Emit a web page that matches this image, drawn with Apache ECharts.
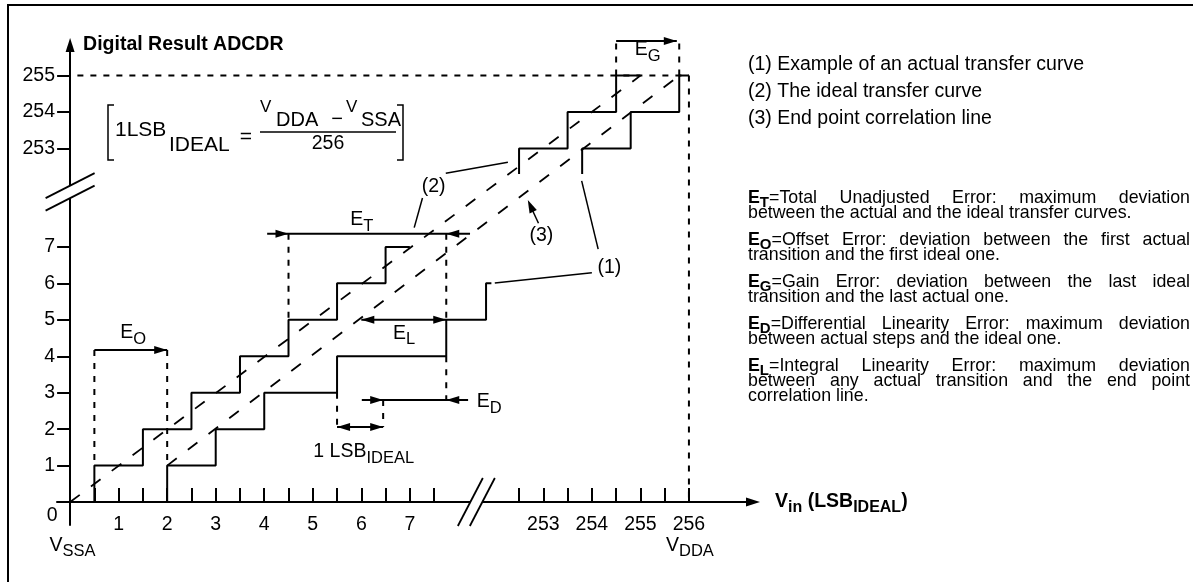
<!DOCTYPE html>
<html>
<head>
<meta charset="utf-8">
<script src="https://cdn.jsdelivr.net/npm/echarts@6.0.0/dist/echarts.min.js"></script>
<style>
html,body{margin:0;padding:0;background:#fff;}
#chart{width:1193px;height:582px;}
</style>
</head>
<body>
<div id="chart"></div>
<script>
const FONT = '"Liberation Sans", Arial, Helvetica, sans-serif';

// ---------- axis-break mapping: values above 100 live beyond the // breaks ----------
const BREAK_AT = 100;
const X_BREAK_SHIFT = 243.25;
const Y_BREAK_SHIFT = 243.3;
const mx = v => (v > BREAK_AT ? v - X_BREAK_SHIFT : v);
const my = v => (v > BREAK_AT ? v - Y_BREAK_SHIFT : v);
const toAxis = p => [mx(p[0]), my(p[1])];

// ---------- ticks ----------
const xTickValues = [0.5,1,1.5,2,2.5,3,3.5,4,4.5,5,5.5,6,6.5,7,7.5,252.5,253,253.5,254,254.5,255,255.5,256];
const xLabelValues = [1,2,3,4,5,6,7,253,254,255,256];
const yLabelValues = [1,2,3,4,5,6,7,253,254,255];

// ---------- transfer curves (x in LSB, y in output code) ----------
const idealLowTransitions = [0.5,1.5,2.5,3.5,4.5,5.5,6.5];
const idealLowEnd = 7.0;
const idealHighTransitions = [252.5,253.5,254.5];
const idealHighEnd = 255.0;
const actualLowTransitions = [2,3,4,5.5,7.75,8.57];
const actualLowEnd = 8.68;
const actualHighTransitions = [253.8,254.8,255.8];
const actualHighEnd = 256;
const highSegmentStartCode = 252.3;
const idealLine = [[0,0],[255,255]];
const endPointLine = [[2,1],[255.8,255]];

// ---------- annotation geometry (same units) ----------
const guideLines = [
  [[0.15,255],[256,255]],
  [[256,255],[256,0]],
  [[254.5,255],[254.5,255.95]],
  [[255.8,255],[255.8,255.95]],
  [[0.5,4.17],[0.5,1]],
  [[2,4.17],[2,1]],
  [[4.5,7.36],[4.5,5]],
  [[7.75,7.36],[7.75,5]],
  [[7.75,4],[7.75,2.8]],
  [[6.45,2.8],[6.45,2.06]],
  [[5.5,3],[5.5,2.06]]
];
const arrowShafts = [
  [[0.5,4.17],[2,4.17]],
  [[4.06,7.36],[8.24,7.36]],
  [[6,5],[7.75,5]],
  [[6.01,2.8],[8.2,2.8]],
  [[5.5,2.06],[6.45,2.06]],
  [[254.5,255.95],[255.75,255.95]]
];
const arrowHeads = [ // [tip, coming from]
  [[2,4.17],[1,4.17]],
  [[4.5,7.36],[4,7.36]],
  [[7.75,7.36],[8.5,7.36]],
  [[6,5],[7,5]],
  [[7.75,5],[7,5]],
  [[6.45,2.8],[6,2.8]],
  [[7.75,2.8],[8.5,2.8]],
  [[5.5,2.06],[6,2.06]],
  [[6.45,2.06],[6,2.06]],
  [[255.75,255.95],[255,255.95]],
  [[9.43,8.29],[9.65,7.65]]
];
const leaderLines = [
  [[7.74,9.02],[9.02,9.32]],
  [[7.26,8.34],[7.09,7.53]],
  [[10.75,6.29],[8.75,6.01]],
  [[10.88,6.94],[10.54,8.81]],
  [[9.65,7.65],[9.5,8.08]]
];
const axisBreaks = [['x', 8.37, 0], ['y', 0, 8.51]];
const plotLabels = [ // [text, subscript, x, y, align]
  ['E','O',1.30,4.64,'center'],
  ['E','T',6.01,7.75,'center'],
  ['E','L',6.88,4.63,'center'],
  ['E','D',8.38,2.75,'left'],
  ['1 LSB','IDEAL',6.05,1.37,'center'],
  ['E','G',255.15,255.71,'center'],
  ['(2)','',7.49,8.65,'center'],
  ['(3)','',9.71,7.30,'center'],
  ['(1)','',11.11,6.44,'center'],
  ['0','',-0.37,-0.38,'center'],
  ['V','SSA',0.05,-1.19,'center'],
  ['V','DDA',256.02,-1.19,'center']
];

// ---------- right-hand text ----------
const legendLines = ['(1) Example of an actual transfer curve','(2) The ideal transfer curve','(3) End point correlation line'];
const definitions = [
  ['T', ['=Total Unadjusted Error: maximum deviation','between the actual and the ideal transfer curves.']],
  ['O', ['=Offset Error: deviation between the first actual','transition and the first ideal one.']],
  ['G', ['=Gain Error: deviation between the last ideal','transition and the last actual one.']],
  ['D', ['=Differential Linearity Error: maximum deviation','between actual steps and the ideal one.']],
  ['L', ['=Integral Linearity Error: maximum deviation','between any actual transition and the end point','correlation line.']]
];

// ---------- helpers ----------
function staircase(transitions, firstCode, startLevel, endX) {
  const pts = [];
  let level = startLevel;
  transitions.forEach((x, i) => {
    pts.push([x, level]);
    level = firstCode + i;
    pts.push([x, level]);
  });
  pts.push([endX, level]);
  return pts.map(toAxis);
}
const measureCtx = document.createElement('canvas').getContext('2d');
function measure(text, size, weight) {
  measureCtx.font = weight + ' ' + size + 'px ' + FONT;
  return measureCtx.measureText(text).width;
}

const DESC_SIZE = 17.8, DESC_SUB = 15, DESC_LEFT = 748, DESC_RIGHT = 1190;
const segFont = { n: [DESC_SIZE,'normal'], B: [DESC_SIZE,'bold'], S: [DESC_SUB,'bold'] };
const descRich = {
  n: {fontSize: DESC_SIZE, fontFamily: FONT, fill:'#000', color:'#000', lineHeight: 20},
  B: {fontSize: DESC_SIZE, fontWeight:'bold', fontFamily: FONT, fill:'#000', color:'#000', lineHeight: 20},
  S: {fontSize: DESC_SUB, fontWeight:'bold', fontFamily: FONT, fill:'#000', color:'#000', lineHeight: 14, padding:[10,0,0,0]}
};
const graphics = [];
// frame
graphics.push({type:'rect', shape:{x:8, y:5, width:1400, height:800}, style:{fill:'none', stroke:'#000', lineWidth:2}, z:1});
// legend
legendLines.forEach((t, i) => graphics.push({type:'text', x: DESC_LEFT, y: 65 + i*27,
  style:{text:t, fontSize:19.5, fontFamily:FONT, fill:'#000', align:'left', verticalAlign:'middle'}}));
// definitions (justified)
const paraTops = [198, 240, 282, 324, 366];
const LINE_STEP = 15;
definitions.forEach(([sym, lines], pi) => {
  lines.forEach((line, li) => {
    const words = line.split(' ').map(w => [['n', w]]);
    if (li === 0) words[0] = [['B','E'],['S',sym],['n',words[0][0][1]]];
    const widths = words.map(segs => segs.reduce((s,[st,t]) => s + measure(t, segFont[st][0], segFont[st][1]), 0));
    const total = widths.reduce((a,b)=>a+b,0);
    const justify = li < lines.length - 1;
    const gap = justify ? (DESC_RIGHT - DESC_LEFT - total) / (words.length - 1) : measure(' ', DESC_SIZE, 'normal');
    let x = DESC_LEFT;
    const y = paraTops[pi] + li * LINE_STEP;
    words.forEach((segs, wi) => {
      graphics.push({type:'text', x: x, y: y,
        style:{text: segs.map(([st,t]) => '{' + st + '|' + t + '}').join(''), rich: descRich,
          fontSize: DESC_SIZE, fontFamily: FONT, fill:'#000', align:'left', verticalAlign:'middle'}});
      x += widths[wi] + gap;
    });
  });
});
// formula box
const fTxt = (t, x, y, size, align) => graphics.push({type:'text', x, y,
  style:{text:t, fontSize:size, fontFamily:FONT, fill:'#000', align: align || 'left', verticalAlign:'middle'}});
fTxt('1LSB', 115, 130, 21);
fTxt('IDEAL', 169, 145, 21);
fTxt('=', 246, 137, 21, 'center');
fTxt('V', 260, 107, 17);
fTxt('DDA', 276, 120, 20);
fTxt('\u2212', 337, 119, 20, 'center');
fTxt('V', 346, 107, 17);
fTxt('SSA', 361, 120, 20);
fTxt('256', 328, 144, 19.5, 'center');
graphics.push({type:'line', shape:{x1:260, y1:132, x2:396, y2:132}, style:{stroke:'#000', lineWidth:1.5}});
graphics.push({type:'polyline', shape:{points:[[114,105],[108,105],[108,160],[114,160]]}, style:{stroke:'#000', lineWidth:1.5, fill:'none'}});
graphics.push({type:'polyline', shape:{points:[[397,105],[403,105],[403,160],[397,160]]}, style:{stroke:'#000', lineWidth:1.5, fill:'none'}});

// ---------- annotation renderer ----------
const labelRich = {
  b: {fontSize: 19.5, fontFamily: FONT, fill:'#000', lineHeight: 22},
  s: {fontSize: 16.5, fontFamily: FONT, fill:'#000', lineHeight: 16, padding:[13,0,0,0]}
};
function renderAnnotations(params, api) {
  const px = p => api.coord(toAxis(p));
  const kids = [];
  const seg = (a, b, style) => kids.push({type:'line', shape:{x1:a[0], y1:a[1], x2:b[0], y2:b[1]}, style});
  guideLines.forEach(([a,b]) => seg(px(a), px(b), {stroke:'#000', lineWidth:2, lineDash:[6,7]}));
  arrowShafts.forEach(([a,b]) => seg(px(a), px(b), {stroke:'#000', lineWidth:2}));
  leaderLines.forEach(([a,b]) => seg(px(a), px(b), {stroke:'#000', lineWidth:1.5}));
  arrowHeads.forEach(([tip, from]) => {
    const t = px(tip), f = px(from);
    let ux = t[0]-f[0], uy = t[1]-f[1];
    const len = Math.hypot(ux, uy); ux /= len; uy /= len;
    const L = 13, W = 4;
    const bx = t[0]-ux*L, by = t[1]-uy*L;
    kids.push({type:'polygon', shape:{points:[[t[0],t[1]],[bx-uy*W, by+ux*W],[bx+uy*W, by-ux*W]]}, style:{fill:'#000'}});
  });
  axisBreaks.forEach(([dir, x, y]) => {
    const c = api.coord([x, y]);
    const h = dir === 'x' ? [12.5, -24] : [24.5, -12.5];
    const o = dir === 'x' ? [6, 0] : [0, 6.25];
    const A = [c[0]-o[0], c[1]-o[1]], B = [c[0]+o[0], c[1]+o[1]];
    kids.push({type:'polygon', shape:{points:[[A[0]-h[0],A[1]-h[1]],[A[0]+h[0],A[1]+h[1]],[B[0]+h[0],B[1]+h[1]],[B[0]-h[0],B[1]-h[1]]]}, style:{fill:'#fff'}});
    [A, B].forEach(P0 => seg([P0[0]-h[0],P0[1]-h[1]],[P0[0]+h[0],P0[1]+h[1]], {stroke:'#000', lineWidth:1.8}));
  });
  plotLabels.forEach(([base, sub, x, y, align]) => {
    const p = px([x, y]);
    kids.push({type:'text', x:p[0], y:p[1], style:{
      text: '{b|' + base + '}' + (sub ? '{s|' + sub + '}' : ''), rich: labelRich,
      fontSize:19.5, fontFamily:FONT, fill:'#000', align: align, verticalAlign:'middle'}});
  });
  return {type:'group', children: kids};
}

const solid = {color:'#000', width:2};
const lineSeries = (data, style) => ({type:'line', data, showSymbol:false, symbol:'none', clip:false, silent:true,
  lineStyle: style, itemStyle:{color:'#000'}, z:3});

const chart = echarts.init(document.getElementById('chart'), null, {renderer:'canvas', devicePixelRatio:1});
chart.setOption({
  animation: false,
  backgroundColor: '#fff',
  textStyle: {fontFamily: FONT},
  grid: {left:57, top:45, width:696, height:480, containLabel:false, outerBoundsMode:'none'},
  xAxis: {
    type:'value', min:-0.27, max:14.07,
    axisLine:{show:true, onZero:true, symbol:['none','triangle'], symbolSize:[9,14], lineStyle:{color:'#000', width:2}},
    axisTick:{show:true, inside:true, length:14, customValues: xTickValues.map(mx), lineStyle:{color:'#000', width:2}},
    axisLabel:{show:true, margin:-10, fontSize:19.5, color:'#000', fontFamily:FONT,
      customValues: xLabelValues.map(mx),
      formatter: v => String(xLabelValues.find(l => Math.abs(mx(l) - v) < 1e-6))},
    splitLine:{show:false},
    name:'{b|V}{s|in}{b| (LSB}{s|IDEAL}{b|)}', nameLocation:'end', nameGap:22,
    nameTextStyle:{color:'#000', padding:[0,0,0,0], rich:{
      b:{fontSize:19.5, fontWeight:'bold', fontFamily:FONT, color:'#000', lineHeight:22},
      s:{fontSize:16, fontWeight:'bold', fontFamily:FONT, color:'#000', lineHeight:16, padding:[12,0,0,0]}}}
  },
  yAxis: {
    type:'value', min:-0.63, max:12.54,
    axisLine:{show:true, onZero:true, symbol:['none','triangle'], symbolSize:[9,14], lineStyle:{color:'#000', width:2}},
    axisTick:{show:true, inside:false, length:13, customValues: yLabelValues.map(my), lineStyle:{color:'#000', width:2}},
    axisLabel:{show:true, margin:2, fontSize:19.5, color:'#000', fontFamily:FONT,
      customValues: yLabelValues.map(my),
      formatter: v => String(yLabelValues.find(l => Math.abs(my(l) - v) < 1e-6))},
    splitLine:{show:false},
    name:'Digital Result ADCDR', nameLocation:'end', nameGap:0,
    nameTextStyle:{color:'#000', fontSize:19.5, fontWeight:'bold', fontFamily:FONT, align:'left', verticalAlign:'middle', padding:[0,0,0,13]}
  },
  graphic: graphics,
  series: [
    lineSeries(staircase(idealLowTransitions, 1, 0, idealLowEnd), solid),
    lineSeries(staircase(idealHighTransitions, 253, highSegmentStartCode, idealHighEnd), solid),
    lineSeries(staircase(actualLowTransitions, 1, 0, actualLowEnd), solid),
    lineSeries(staircase(actualHighTransitions, 253, highSegmentStartCode, actualHighEnd), solid),
    lineSeries(idealLine.map(toAxis), {color:'#000', width:1.8, type:[12,14]}),
    lineSeries(endPointLine.map(toAxis), {color:'#000', width:1.8, type:[12,14]}),
    {type:'custom', coordinateSystem:'cartesian2d', data:[[0,0]], silent:true, z:4, clip:false, renderItem: renderAnnotations}
  ]
});
</script>
</body>
</html>
